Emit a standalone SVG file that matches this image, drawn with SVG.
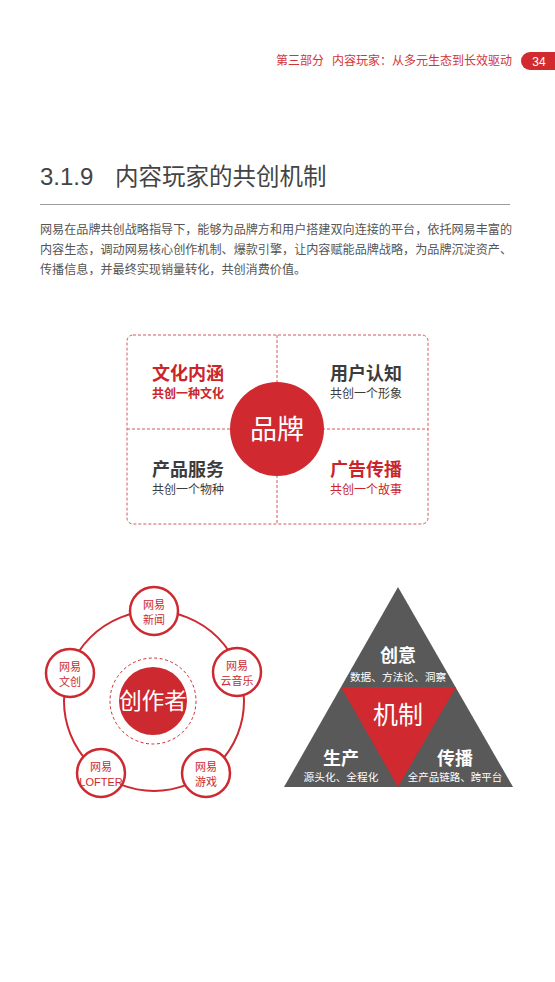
<svg xmlns="http://www.w3.org/2000/svg" width="555" height="982" viewBox="0 0 555 982">
<style>
text{font-family:"Noto Sans CJK SC","Liberation Sans",sans-serif;}
.hdr{font-size:12px;fill:#d0343a;}
.para{font-size:12.1px;fill:#555;}
.qt{font-size:18px;font-weight:bold;}
.qs{font-size:12px;}
.red{fill:#c9252b;}
.dark{fill:#3c3c3c;}
.dash{stroke:#d9575b;stroke-width:1;stroke-dasharray:3 2;fill:none;}
.sc{fill:#fff;stroke:#cc2a30;stroke-width:2.5;}
.st{font-size:11px;fill:#cc2a30;text-anchor:middle;}
.tw{fill:#fff;text-anchor:middle;}
</style>
<rect width="555" height="982" fill="#fff"/>
<g id="header">
<text class="hdr" x="276" y="65">第三部分</text>
<text class="hdr" x="512" y="65" text-anchor="end">内容玩家：从多元生态到长效驱动</text>
<rect x="521" y="52" width="44" height="18" rx="9" fill="#d22b2f"/>
<text x="539" y="66" fill="#fff" font-size="12" text-anchor="middle" style="font-family:'Liberation Sans',sans-serif">34</text>
</g>
<g id="title">
<text x="40" y="185" font-size="24" fill="#444" style="font-family:'Liberation Sans',sans-serif">3.1.9</text>
<text x="115" y="185" font-size="23.5" fill="#444">内容玩家的共创机制</text>
<line x1="40" y1="204.5" x2="510" y2="204.5" stroke="#9a9a9a" stroke-width="1"/>
</g>
<g id="paragraph">
<text class="para" x="40" y="234" textLength="472" lengthAdjust="spacing">网易在品牌共创战略指导下，能够为品牌方和用户搭建双向连接的平台，依托网易丰富的</text>
<text class="para" x="40" y="254" textLength="472" lengthAdjust="spacing">内容生态，调动网易核心创作机制、爆款引擎，让内容赋能品牌战略，为品牌沉淀资产、</text>
<text class="para" x="40" y="274">传播信息，并最终实现销量转化，共创消费价值。</text>
</g>
<g id="brand-quad">
<rect class="dash" x="127" y="335" width="301" height="189" rx="6"/>
<line class="dash" x1="277" y1="335" x2="277" y2="524"/>
<line class="dash" x1="127" y1="429" x2="428" y2="429"/>
<g id="q-culture">
<text class="qt red" x="152" y="380">文化内涵</text>
<text class="qs red" x="152" y="398" font-weight="bold">共创一种文化</text>
</g>
<g id="q-user">
<text class="qt dark" x="330" y="380">用户认知</text>
<text class="qs dark" x="330" y="398">共创一个形象</text>
</g>
<g id="q-product">
<text class="qt dark" x="152" y="476">产品服务</text>
<text class="qs dark" x="152" y="494">共创一个物种</text>
</g>
<g id="q-ad">
<text class="qt red" x="330" y="476">广告传播</text>
<text class="qs red" x="330" y="494">共创一个故事</text>
</g>
<g id="brand-center">
<circle cx="277" cy="429" r="47" fill="#d0292f"/>
<text class="tw" x="277" y="439" font-size="27">品牌</text>
</g>
</g>
<g id="connectors">
<circle cx="154" cy="701" r="90" fill="none" stroke="#cc2a30" stroke-width="2"/>
</g>
<g id="creator">
<circle cx="153" cy="701" r="43" fill="none" stroke="#cc2a30" stroke-width="1" stroke-dasharray="3 2.5"/>
<circle cx="153" cy="701" r="34" fill="#cc2a30"/>
<text class="tw" x="153" y="709" font-size="22.5">创作者</text>
</g>
<g id="n-news">
<circle class="sc" cx="154" cy="611" r="24"/>
<text class="st" x="154" y="609">网易</text>
<text class="st" x="154" y="624">新闻</text>
</g>
<g id="n-music">
<circle class="sc" cx="237" cy="672" r="24"/>
<text class="st" x="237" y="670">网易</text>
<text class="st" x="237" y="685">云音乐</text>
</g>
<g id="n-game">
<circle class="sc" cx="206" cy="773" r="24"/>
<text class="st" x="206" y="771">网易</text>
<text class="st" x="206" y="786">游戏</text>
</g>
<g id="n-lofter">
<circle class="sc" cx="101" cy="773" r="24"/>
<text class="st" x="101" y="771">网易</text>
<text class="st" x="101" y="786" style="font-family:'Liberation Sans',sans-serif" font-size="10.5">LOFTER</text>
</g>
<g id="n-wenchuang">
<circle class="sc" cx="70" cy="673" r="24"/>
<text class="st" x="70" y="671">网易</text>
<text class="st" x="70" y="686">文创</text>
</g>
<g id="triangle">
<polygon points="398,587 513,787 284,787" fill="#595959"/>
<polygon points="341,687 456,687 398,787" fill="#d0292f"/>
<g id="t-idea">
<text class="tw" x="398" y="662" font-size="18" font-weight="bold">创意</text>
<text class="tw" x="398" y="681" font-size="10.7">数据、方法论、洞察</text>
</g>
<g id="t-mech">
<text class="tw" x="398" y="724" font-size="25">机制</text>
</g>
<g id="t-prod">
<text class="tw" x="341" y="765" font-size="18" font-weight="bold">生产</text>
<text class="tw" x="341" y="781" font-size="10.7">源头化、全程化</text>
</g>
<g id="t-spread">
<text class="tw" x="455" y="765" font-size="18" font-weight="bold">传播</text>
<text class="tw" x="455" y="781" font-size="10.5">全产品链路、跨平台</text>
</g>
</g>
</svg>
